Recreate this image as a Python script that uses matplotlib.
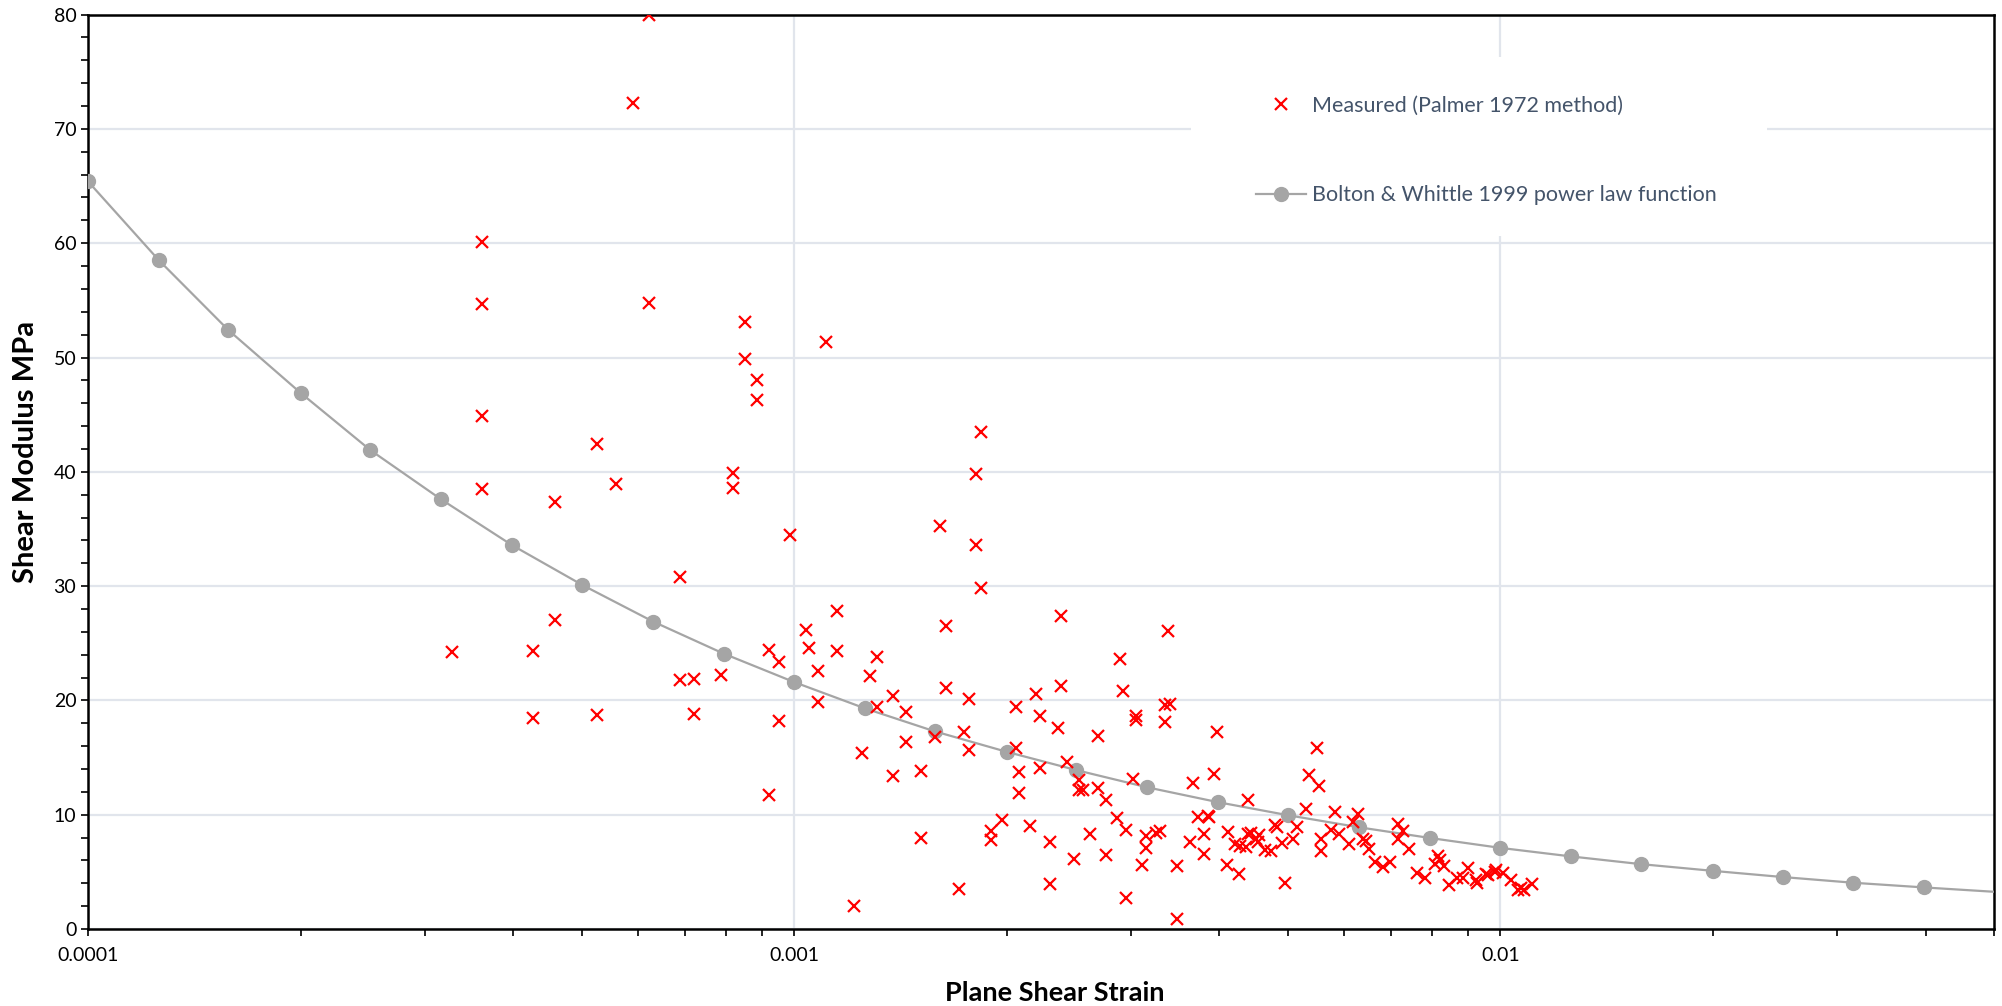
import matplotlib
matplotlib.use('Agg')
import matplotlib.pyplot as plt
from matplotlib.patches import Rectangle
from matplotlib.ticker import FixedLocator, FixedFormatter, MultipleLocator, LogLocator, NullFormatter

plt.rcParams['font.family'] = ['Lato', 'DejaVu Sans']

# measured points (Palmer 1972 method): plane shear strain, shear modulus MPa
measured_strain = [
    0.000328, 0.000361, 0.000361, 0.000361, 0.000361, 0.000427, 0.000427, 0.000459, 0.000459, 0.000525,
    0.000525, 0.000559, 0.000591, 0.000623, 0.000623, 0.00069, 0.00069, 0.000722, 0.000722, 0.000788,
    0.000818, 0.000818, 0.000853, 0.000853, 0.000887, 0.000887, 0.00092, 0.00092, 0.000952, 0.000952,
    0.000985, 0.00104, 0.00105, 0.00108, 0.00108, 0.00111, 0.00115, 0.00115, 0.001215, 0.001247,
    0.00128, 0.00131, 0.00131, 0.00138, 0.00138, 0.00144, 0.00144, 0.00151, 0.00151, 0.00158,
    0.00161, 0.00164, 0.00164, 0.00171, 0.00174, 0.00177, 0.00177, 0.00181, 0.00181, 0.00184,
    0.00184, 0.0019, 0.0019, 0.00197, 0.00206, 0.00206, 0.00208, 0.00208, 0.0022, 0.00216,
    0.00223, 0.00223, 0.0023, 0.0023, 0.00236, 0.00239, 0.00239, 0.00243, 0.00249, 0.00253,
    0.00253, 0.00256, 0.00262, 0.00269, 0.00269, 0.00276, 0.00276, 0.00286, 0.00289, 0.00292,
    0.00295, 0.00295, 0.00302, 0.00305, 0.00305, 0.00311, 0.00315, 0.00315, 0.00325, 0.0033,
    0.00335, 0.0034, 0.00335, 0.00338, 0.00348, 0.00348, 0.00364, 0.00367, 0.00373, 0.0038,
    0.0038, 0.00385, 0.00387, 0.00393, 0.00397, 0.0041, 0.00412, 0.00421, 0.00428, 0.00436,
    0.00427, 0.00439, 0.00439, 0.00444, 0.0045, 0.00453, 0.00455, 0.00464, 0.00474, 0.0048,
    0.00483, 0.0049, 0.00495, 0.00508, 0.00516, 0.0053, 0.00535, 0.00549, 0.00553, 0.00557,
    0.00557, 0.00575, 0.00584, 0.0059, 0.0061, 0.00619, 0.00628, 0.00639, 0.00645, 0.00651,
    0.00665, 0.00682, 0.00698, 0.00716, 0.00727, 0.00716, 0.00742, 0.00762, 0.00782, 0.00807,
    0.00816, 0.0082, 0.00832, 0.00845, 0.00868, 0.00884, 0.009, 0.00924, 0.00926, 0.00955,
    0.0096, 0.00982, 0.00985, 0.0101, 0.01035, 0.0106, 0.0107, 0.0108, 0.0111,
]
measured_G = [
    24.2, 60.1, 54.7, 44.9, 38.5, 24.3, 18.5, 37.4, 27.0, 42.4,
    18.7, 38.9, 72.3, 80.0, 54.8, 30.8, 21.8, 21.9, 18.8, 22.2,
    39.9, 38.6, 53.1, 49.9, 48.0, 46.3, 24.4, 11.7, 23.4, 18.2,
    34.5, 26.2, 24.6, 22.6, 19.9, 51.4, 27.8, 24.3, 2.0, 15.4,
    22.1, 23.8, 19.4, 20.4, 13.4, 19.0, 16.4, 13.8, 8.0, 16.8,
    35.3, 26.5, 21.1, 3.5, 17.2, 20.1, 15.7, 39.8, 33.6, 43.5,
    29.8, 8.6, 7.8, 9.5, 19.4, 15.8, 13.7, 11.9, 20.6, 9.0,
    18.6, 14.1, 7.6, 3.9, 17.6, 27.4, 21.3, 14.6, 6.1, 13.0,
    12.2, 12.2, 8.3, 16.9, 12.3, 11.3, 6.5, 9.7, 23.6, 20.8,
    8.7, 2.7, 13.1, 18.6, 18.3, 5.6, 8.1, 7.1, 8.4, 8.6,
    19.6, 19.7, 18.1, 26.1, 5.5, 0.9, 7.6, 12.8, 9.8, 8.3,
    6.6, 9.9, 9.8, 13.6, 17.2, 5.6, 8.5, 7.45, 7.3, 7.15,
    4.8, 11.3, 8.3, 8.4, 7.9, 7.6, 8.2, 6.9, 6.85, 9.1,
    8.9, 7.55, 4.05, 7.85, 8.9, 10.5, 13.5, 15.8, 12.5, 7.85,
    6.8, 8.7, 10.2, 8.3, 7.4, 9.4, 10.1, 7.9, 7.7, 7.0,
    5.9, 5.4, 5.9, 9.2, 8.6, 7.9, 7.0, 4.9, 4.5, 5.7,
    6.4, 6.0, 5.5, 3.85, 4.5, 4.5, 5.3, 4.3, 4.05, 4.8,
    4.75, 5.0, 5.2, 4.9, 4.3, 3.4, 3.6, 3.4, 3.9,
]

# Bolton & Whittle 1999 power law curve (markers every tenth of a decade, line runs on to axis end)
fit_strain = [
    0.0001, 0.000126, 0.000158, 0.0002, 0.000251, 0.000316, 0.000398, 0.000501, 0.000631, 0.000794,
    0.001, 0.00126, 0.00158, 0.002, 0.00251, 0.00316, 0.00398, 0.00501, 0.00631, 0.00794,
    0.01, 0.0126, 0.0158, 0.02, 0.0251, 0.0316, 0.0398, 0.05,
]
fit_G = [
    65.4, 58.5, 52.4, 46.9, 41.9, 37.6, 33.6, 30.1, 26.9, 24.1,
    21.6, 19.3, 17.3, 15.5, 13.9, 12.4, 11.1, 9.95, 8.9, 7.97,
    7.1, 6.35, 5.68, 5.09, 4.55, 4.05, 3.64, 3.26,
]

x_ticks = [0.0001, 0.001, 0.01]
x_tick_labels = ['0.0001', '0.001', '0.01']
text_col = '#44546A'
grid_col = '#E1E5EC'

fig = plt.figure(figsize=(20.02, 10.06), dpi=100)
ax = fig.add_axes([0.044, 0.0765, 0.952, 0.909])

ax.plot(fit_strain, fit_G, color='#A5A5A5', lw=1.6, marker='o', ms=10,
        markevery=slice(0, len(fit_strain) - 1), zorder=3,
        label='Bolton & Whittle 1999 power law function')
ax.plot(measured_strain, measured_G, ls='none', marker='x', color='#FF0000', ms=8, mew=1.6,
        zorder=4, label='Measured (Palmer 1972 method)')

ax.set_xscale('log')
ax.set_xlim(0.0001, 0.05)
ax.set_ylim(0, 80)

ax.xaxis.set_major_locator(FixedLocator(x_ticks))
ax.xaxis.set_major_formatter(FixedFormatter(x_tick_labels))
ax.xaxis.set_minor_locator(LogLocator(base=10, subs=range(2, 10)))
ax.xaxis.set_minor_formatter(NullFormatter())
ax.yaxis.set_major_locator(MultipleLocator(10))
ax.yaxis.set_minor_locator(MultipleLocator(2))

ax.tick_params(which='both', direction='out', length=5, width=1.2, colors='black', labelsize=14)
ax.tick_params(axis='x', pad=8)
ax.grid(which='major', color=grid_col, lw=1.6, zorder=0)
ax.set_axisbelow(True)
for s in ax.spines.values():
    s.set_linewidth(1.8)
    s.set_color('black')

ax.set_xlabel('Plane Shear Strain', fontsize=19.5, fontweight='bold')
ax.set_ylabel('Shear Modulus MPa', fontsize=21, fontweight='bold')
ax.xaxis.set_label_coords(0.507, -0.057)
ax.yaxis.set_label_coords(-0.026, 0.522)

# white legend area hides the gridlines behind it
ax.add_patch(Rectangle((0.5787, 0.758), 0.3022, 0.1957, transform=ax.transAxes,
                       facecolor='white', edgecolor='none', zorder=1))
h, l = ax.get_legend_handles_labels()
leg = ax.legend(h[::-1], l[::-1], loc='upper left', bbox_to_anchor=(0.6128, 0.9116), frameon=False,
                fontsize=15.5, labelcolor=text_col, handlelength=2.3, handletextpad=0.28,
                labelspacing=3.24, borderpad=0, borderaxespad=0)

plt.savefig('out.png', dpi=100)
